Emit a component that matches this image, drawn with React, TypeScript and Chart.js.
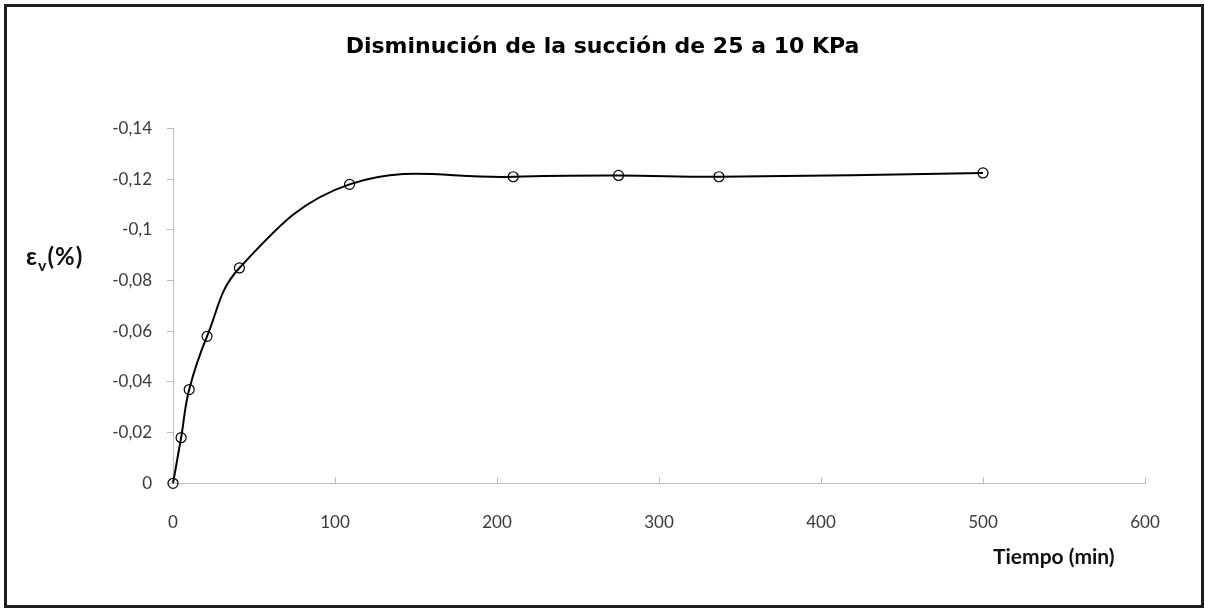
import React, { useEffect, useRef } from "react";
import { Chart, registerables } from "chart.js";

Chart.register(...registerables);

const titleText = "Disminución de la succión de 25 a 10 KPa";
const xTitle = "Tiempo (min)";
const timeMin = [0, 5, 10, 21, 41, 109, 210, 275, 337, 500];
const strainPct = [0, -0.018, -0.037, -0.058, -0.085, -0.118, -0.121, -0.1215, -0.121, -0.1225];
const xTickMin = 0;
const xTickMax = 600;
const xTickStep = 100;
const yTickMin = -0.14;
const yTickMax = 0;
const yTickStep = 0.02;

const tickFont = { family: "Lato, 'Open Sans', sans-serif", size: 17 };
const axisGray = "#bdbdbd";
const labelColor = "#3a3a3a";

export default function App() {
  const canvasRef = useRef<HTMLCanvasElement | null>(null);

  useEffect(() => {
    if (!canvasRef.current) return;
    const points = timeMin.map((t, i) => ({ x: t, y: strainPct[i] }));
    const chart = new Chart(canvasRef.current, {
      type: "line",
      data: {
        datasets: [
          {
            data: points,
            borderColor: "#000",
            borderWidth: 2,
            tension: 0.4,
            fill: false,
            pointRadius: 5,
            pointBorderWidth: 1.2,
            pointBorderColor: "#000",
            pointBackgroundColor: "rgba(0,0,0,0)",
            clip: false as any,
          },
        ],
      },
      options: {
        animation: false,
        responsive: false,
        events: [],
        layout: { padding: { left: 0, right: 0, top: 0, bottom: 0 } },
        plugins: {
          legend: { display: false },
          tooltip: { enabled: false },
          title: {
            display: true,
            text: titleText,
            color: "#000",
            font: { family: "'DejaVu Sans', Verdana, sans-serif", size: 22, weight: "bold" },
            padding: { top: 34, bottom: 68.2 },
          },
        },
        scales: {
          x: {
            type: "linear",
            min: xTickMin,
            max: xTickMax,
            ticks: {
              stepSize: xTickStep,
              padding: 35,
              font: tickFont,
              color: labelColor,
              maxRotation: 0,
            },
            grid: {
              drawOnChartArea: false,
              drawTicks: true,
              tickLength: -6,
              color: axisGray,
            },
            border: { color: axisGray, width: 1 },
            afterFit: (s: any) => {
              s.height = 124.7;
            },
          },
          y: {
            type: "linear",
            min: yTickMin,
            max: yTickMax,
            reverse: true,
            ticks: {
              stepSize: yTickStep,
              padding: 15,
              font: tickFont,
              color: labelColor,
              callback: (v: any) => {
                const n = Math.round(Number(v) * 100) / 100;
                return n === 0 ? "0" : String(n).replace(".", ",");
              },
            },
            grid: {
              drawOnChartArea: false,
              drawTicks: true,
              tickLength: 6,
              color: axisGray,
            },
            border: { color: axisGray, width: 1 },
            afterFit: (s: any) => {
              s.width = 173;
            },
          },
          spacer: {
            type: "linear",
            position: "right",
            display: true,
            ticks: { display: false },
            grid: { display: false, drawTicks: false },
            border: { display: false },
            afterFit: (s: any) => {
              s.width = 60;
            },
          },
        },
      },
    });
    return () => chart.destroy();
  }, []);

  return (
    <div
      style={{
        position: "absolute",
        left: 0,
        top: 0,
        width: 1205,
        height: 608,
        background: "#fff",
        overflow: "hidden",
      }}
    >
      <canvas ref={canvasRef} width={1205} height={608} style={{ position: "absolute", left: 0, top: 0 }} />
      <div
        style={{
          position: "absolute",
          left: 4,
          top: 4,
          width: 1200,
          height: 604,
          boxSizing: "border-box",
          border: "3px solid #1e1e1e",
          pointerEvents: "none",
        }}
      />
      <div
        style={{
          position: "absolute",
          left: 26,
          top: 240,
          fontFamily: "Lato, 'DejaVu Serif', serif",
          fontWeight: "bold",
          fontSize: 24,
          letterSpacing: 1,
          lineHeight: "32px",
          color: "#111",
          whiteSpace: "nowrap",
        }}
      >
        ε<sub style={{ fontSize: 16, verticalAlign: "-6px", lineHeight: 0 }}>v</sub>(%)
      </div>
      <div
        style={{
          position: "absolute",
          left: 993,
          top: 542,
          fontFamily: "Lato, 'Open Sans', sans-serif",
          fontWeight: "bold",
          fontSize: 21,
          lineHeight: "28px",
          color: "#111",
          whiteSpace: "nowrap",
        }}
      >
        {xTitle}
      </div>
    </div>
  );
}
